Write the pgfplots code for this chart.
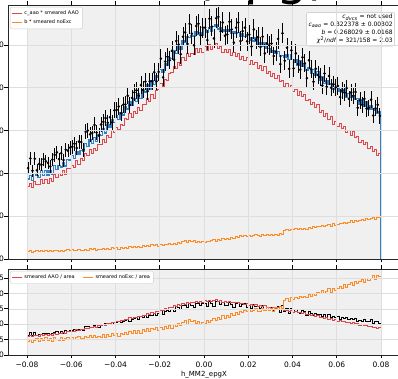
\documentclass[border=0pt]{standalone}
\usepackage{fontspec}
\setmainfont{DejaVu Sans}
\usepackage{pgfplots}
\usepackage{pgfplotstable}
\pgfplotsset{compat=1.18}

\definecolor{tabred}{RGB}{222,72,76}
\definecolor{tabblue}{RGB}{52,128,194}
\definecolor{taborange}{RGB}{255,138,36}
\definecolor{bandgray}{RGB}{240,240,240}
\definecolor{gridgray}{RGB}{222,222,222}

% h_MM2_epgX: left bin edge, data counts, c_aao*AAO, b*noExc
% (first and last two rows close the step outlines)
\pgfplotstableread{
x d red org
-0.080 0 0 0
-0.080 212 170 17
-0.079 235 176 19
-0.078 206 168 16
-0.077 234 181 18
-0.076 207 175 20
-0.075 222 173 17
-0.074 220 186 20
-0.073 233 177 18
-0.072 228 186 21
-0.071 224 177 18
-0.070 216 187 20
-0.069 232 181 17
-0.068 243 198 21
-0.067 249 190 19
-0.066 233 200 18
-0.065 247 194 21
-0.064 231 207 18
-0.063 255 197 20
-0.062 253 211 22
-0.061 260 212 19
-0.060 262 219 22
-0.059 269 215 19
-0.058 259 230 21
-0.057 274 221 23
-0.056 273 234 20
-0.055 255 231 20
-0.054 297 246 23
-0.053 300 242 21
-0.052 291 255 24
-0.051 294 247 22
-0.050 313 259 24
-0.049 295 254 21
-0.048 288 267 23
-0.047 314 267 22
-0.046 320 280 25
-0.045 329 272 22
-0.044 318 288 25
-0.043 331 285 23
-0.042 319 300 26
-0.041 347 295 24
-0.040 348 308 26
-0.039 356 303 23
-0.038 340 314 27
-0.037 360 311 25
-0.036 361 328 28
-0.035 381 325 25
-0.034 359 339 29
-0.033 376 331 27
-0.032 389 345 30
-0.031 394 341 26
-0.030 381 355 30
-0.029 406 347 27
-0.028 395 362 31
-0.027 414 361 29
-0.026 392 374 32
-0.025 415 368 29
-0.024 415 384 33
-0.023 436 376 31
-0.022 415 393 34
-0.021 437 395 30
-0.020 468 409 34
-0.019 424 404 31
-0.018 461 420 35
-0.017 472 418 33
-0.016 464 434 36
-0.015 486 435 33
-0.014 465 450 37
-0.013 509 445 35
-0.012 501 460 39
-0.011 478 453 36
-0.010 519 470 40
-0.009 529 463 43
-0.008 502 480 38
-0.007 549 473 44
-0.006 526 481 41
-0.005 499 477 43
-0.004 544 491 39
-0.003 549 483 41
-0.002 522 491 38
-0.001 540 482 40
0.000 540 496 39
0.001 511 487 42
0.002 561 500 40
0.003 543 489 43
0.004 515 498 45
0.005 562 504 42
0.006 565 491 46
0.007 532 497 44
0.008 552 483 48
0.009 521 490 45
0.010 524 482 49
0.011 554 490 46
0.012 536 476 51
0.013 505 482 48
0.014 540 474 52
0.015 552 479 50
0.016 509 466 54
0.017 532 473 52
0.018 540 464 55
0.019 508 471 53
0.020 524 455 56
0.021 496 463 53
0.022 536 454 55
0.023 512 460 57
0.024 518 446 54
0.025 495 451 53
0.026 519 440 57
0.027 480 449 55
0.028 503 434 58
0.029 499 437 55
0.030 503 426 57
0.031 474 433 54
0.032 484 422 58
0.033 514 429 56
0.034 455 414 59
0.035 527 418 57
0.036 463 403 67
0.037 493 409 69
0.038 444 400 66
0.039 487 406 70
0.040 445 391 68
0.041 480 395 71
0.042 455 383 69
0.043 442 392 72
0.044 471 380 70
0.045 457 384 72
0.046 422 370 70
0.047 464 372 74
0.048 443 361 72
0.049 414 366 76
0.050 444 355 73
0.051 430 360 77
0.052 425 343 75
0.053 405 346 79
0.054 433 333 76
0.055 402 339 78
0.056 427 327 81
0.057 400 332 77
0.058 408 315 82
0.059 401 321 79
0.060 404 310 81
0.061 378 317 84
0.062 393 306 82
0.063 388 309 86
0.064 399 295 83
0.065 374 301 86
0.066 389 289 89
0.067 381 297 85
0.068 390 283 90
0.069 353 286 88
0.070 370 272 90
0.071 360 278 93
0.072 374 267 89
0.073 351 273 94
0.074 353 258 92
0.075 372 264 94
0.076 335 252 97
0.077 352 255 93
0.078 360 243 98
0.079 334 247 96
0.080 334 247 96
0.080 0 0 0
}\hist

% running sums (in hundreds) for the area normalisation
\pgfplotstablecreatecol[create col/expr accum={\pgfmathaccuma+\thisrow{d}/100}{0}]{cd}{\hist}
\pgfplotstablecreatecol[create col/expr accum={\pgfmathaccuma+\thisrow{red}/100}{0}]{cr}{\hist}
\pgfplotstablecreatecol[create col/expr accum={\pgfmathaccuma+\thisrow{org}/100}{0}]{co}{\hist}
\pgfplotstablegetelem{160}{cd}\of{\hist}\let\sumd\pgfplotsretval
\pgfplotstablegetelem{160}{cr}\of{\hist}\let\sumr\pgfplotsretval
\pgfplotstablegetelem{160}{co}\of{\hist}\let\sumo\pgfplotsretval

\pgfplotsset{
  mmbase/.style={
    scale only axis, width=392pt,
    xmin=-0.08859, xmax=0.08859,
    xtick={-0.08,-0.06,-0.04,-0.02,0,0.02,0.04,0.06,0.08},
    scaled x ticks=false, scaled y ticks=false,
    tick align=outside, major tick length=3.5pt,
    tick style={black, line width=0.6pt},
    axis line style={black!85, line width=0.7pt},
    grid=major, grid style={gridgray, line width=0.5pt},
    axis on top,
    ticklabel style={font=\fontsize{7.5}{9}\selectfont},
    yticklabel style={inner xsep=0.5pt},
    legend cell align=left,
    legend image code/.code={\draw[##1] (0pt,0pt) -- (10pt,0pt);},
  },
}

\begin{document}
\begin{tikzpicture}

% upper panel: counts and fit components
\begin{axis}[mmbase,
  at={(8pt,120pt)}, anchor=south west, height=254pt,
  ymin=0, ymax=593,
  ytick={0,100,200,300,400,500},
  yticklabels={0,100,200,300,400,500},
  xticklabels={},
  legend style={at={(0.005,0.992)}, anchor=north west,
    font=\fontsize{5}{6}\selectfont, draw=black!20, rounded corners=2pt,
    fill=white, inner sep=1.5pt},
]
% shaded fit range
\addplot[fill=bandgray, draw=none, forget plot]
  coordinates {(-0.08,0) (-0.08,593) (0.08,593) (0.08,0)} -- cycle;
\addplot[tabblue, line width=1.3pt, const plot mark left, forget plot,
  skip coords between index={0}{1}]
  table[x=x, y expr=\thisrow{red}+\thisrow{org}] {\hist};
\addplot[tabred, line width=0.8pt, const plot mark left]
  table[x=x, y=red] {\hist};
\addlegendentry{c\_aao * smeared AAO}
\addplot[taborange, line width=0.8pt, const plot mark left]
  table[x=x, y=org] {\hist};
\addlegendentry{b * smeared noExc}
\addplot[black, only marks, mark=*, mark size=1.1pt, forget plot,
  skip coords between index={0}{1}, skip coords between index={161}{163},
  error bars/.cd, y dir=both, y explicit,
  error bar style={black, line width=0.8pt}, error mark=none]
  table[x expr=\thisrow{x}+0.0005, y=d, y error expr=sqrt(\thisrow{d})] {\hist};
\node[anchor=north east, align=right, draw=black!25, rounded corners=2pt,
  fill=white, inner sep=2pt, font=\fontsize{6}{8}\selectfont]
  at (rel axis cs:0.987,0.972)
  {\textit{c}\textsubscript{\textit{dvcs}} = not used\\
   \textit{c}\textsubscript{\textit{aao}} = 0.322378 ± 0.00302\\
   \textit{b} = 0.268029 ± 0.0168\\
   \textit{χ}\textsuperscript{2}/\textit{ndf} = 321/158 = 2.03};
\end{axis}

% lower panel: shapes normalised to unit area
\begin{axis}[mmbase,
  at={(8pt,24pt)}, anchor=south west, height=86pt,
  ymin=0, ymax=0.01396,
  ytick={0,0.0025,0.005,0.0075,0.01,0.0125},
  yticklabels={0.0000,0.0025,0.0050,0.0075,0.0100,0.0125},
  xticklabels={−0.08,−0.06,−0.04,−0.02,0.00,0.02,0.04,0.06,0.08},
  xlabel={h\_MM2\_epgX},
  xlabel style={font=\fontsize{7}{8}\selectfont, inner sep=1pt, yshift=1pt},
  legend columns=2,
  legend style={at={(0.005,0.977)}, anchor=north west,
    font=\fontsize{5}{6}\selectfont, draw=black!20, rounded corners=2pt,
    fill=white, inner sep=1.5pt,
    /tikz/every even column/.append style={column sep=6pt}},
]
\addplot[fill=bandgray, draw=none, forget plot]
  coordinates {(-0.08,0) (-0.08,0.01396) (0.08,0.01396) (0.08,0)} -- cycle;
\addplot[black, line width=0.8pt, const plot mark left, forget plot]
  table[x=x, y expr=\thisrow{d}/\sumd/100] {\hist};
\addplot[tabred, line width=0.8pt, const plot mark left]
  table[x=x, y expr=\thisrow{red}/\sumr/100] {\hist};
\addlegendentry{smeared AAO / area}
\addplot[taborange, line width=0.8pt, const plot mark left]
  table[x=x, y expr=\thisrow{org}/\sumo/100] {\hist};
\addlegendentry{smeared noExc / area}
\end{axis}

\node[anchor=base, inner sep=0pt, font=\fontsize{50}{50}\selectfont]
  at (261pt,384pt) {(epg)};

\pgfresetboundingbox
\useasboundingbox (0,0) rectangle (398pt,379pt);
\end{tikzpicture}
\end{document}
